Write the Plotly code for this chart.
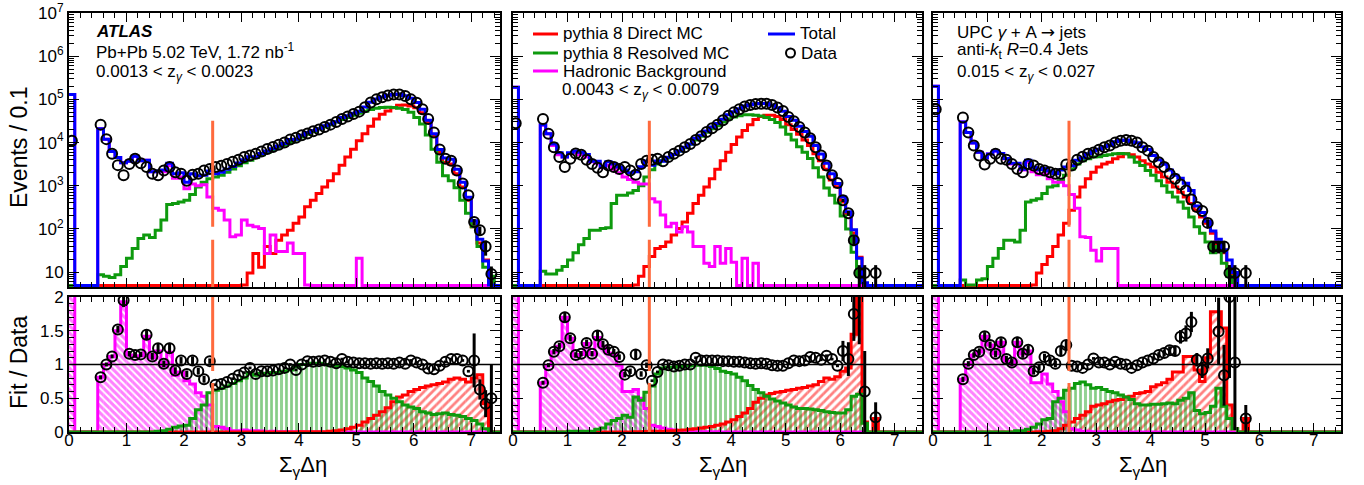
import math
import plotly.graph_objects as go

# ---------------- binning ----------------
N_BINS = 75
BIN_W = 0.1
X_MAX = 7.5

# ---------------- panel 1 : 0.0013 < z < 0.0023 ----------------
data1 = [1.1e4, None, None, None, None, 2.6e4, 1.2e4, 5.5e3, 3.0e3, 1.75e3,
         3.2e3, 4.2e3, 3.3e3, 2.7e3, 1.9e3, 1.75e3, 2.25e3, 2.7e3, 2.05e3, 1.9e3,
         1.3e3, 1.8e3, 1.9e3, 2.25e3, 2.45e3, 2.7e3, 2.9e3, 3.2e3, 3.6e3, 4.0e3,
         4.6e3, 5.0e3, 5.5e3, 6.2e3, 7.1e3, 7.9e3, 8.9e3, 1.0e4, 1.17e4, 1.29e4,
         1.48e4, 1.62e4, 1.82e4, 2.0e4, 2.3e4, 2.6e4, 3.0e4, 3.5e4, 4.0e4, 4.6e4,
         5.2e4, 6.6e4, 8.5e4, 1.0e5, 1.12e5, 1.23e5, 1.29e5, 1.29e5, 1.2e5, 1.0e5,
         8.3e4, 5.9e4, 3.5e4, 1.7e4, 6.9e3, 4.2e3, 3.8e3, 2.25e3, 1.12e3, 600,
         145, 93, 39, 9, None]
data1_err = [0] * 70 + [25, 20, 15, 4.5, 0]
total1 = [1.3e5, 0, 0, 0, 0, 2.1e4, 1.2e4, 6.2e3, 4.5e3, 3.4e3,
          3.7e3, 4.8e3, 3.8e3, 3.9e3, 2.1e3, 2.2e3, 2.3e3, 3.3e3, 1.9e3, 2.0e3,
          1.2e3, 1.9e3, 1.7e3, 1.75e3, 2.2e3, 1.9e3, 2.05e3, 2.4e3, 2.8e3, 3.35e3,
          4.0e3, 4.7e3, 4.7e3, 5.6e3, 6.4e3, 7.2e3, 8.3e3, 9.5e3, 1.17e4, 1.19e4,
          1.48e4, 1.7e4, 1.9e4, 2.1e4, 2.45e4, 2.7e4, 3.05e4, 3.8e4, 4.15e4, 4.75e4,
          5.3e4, 6.7e4, 8.6e4, 1.02e5, 1.13e5, 1.25e5, 1.3e5, 1.33e5, 1.21e5, 1.06e5,
          8.5e4, 5.9e4, 3.3e4, 1.6e4, 6.9e3, 4.4e3, 4.1e3, 2.4e3, 1.2e3, 540,
          155, 58, 18, 5, 0]
direct1 = [0, 0, 0, 0, 0, 0, 0, 0, 0, 0,
           0, 0, 0, 0, 0, 0, 0, 0, 0, 0,
           0, 0, 0, 0, 0, 0, 0, 0, 0, 0,
           5, 9.5, 27, 13, 39, 27, 55, 72, 93, 135,
           190, 325, 460, 660, 930, 1.3e3, 1.9e3, 3.0e3, 4.6e3, 7.0e3,
           1.1e4, 1.6e4, 2.4e4, 3.5e4, 4.5e4, 5.4e4, 6.4e4, 7.3e4, 7.4e4, 7.0e4,
           6.4e4, 4.9e4, 2.9e4, 1.4e4, 5.9e3, 3.5e3, 3.2e3, 1.9e3, 930, 460,
           112, 47, 19, 5.6, 0]
resolved1 = [0, 0, 0, 0, 0, 8.7, 8, 7.5, 8.7, 13.5,
             21, 35, 60, 72, 63, 93, 160, 370, 390, 420,
             460, 630, 930, 1.2e3, 1.45e3, 1.6e3, 1.75e3, 2.05e3, 2.45e3, 2.9e3,
             3.4e3, 3.9e3, 4.5e3, 5.2e3, 6.0e3, 6.9e3, 7.8e3, 8.8e3, 1.0e4, 1.15e4,
             1.35e4, 1.55e4, 1.8e4, 2.05e4, 2.3e4, 2.6e4, 3.0e4, 3.4e4, 3.8e4, 4.3e4,
             4.8e4, 5.3e4, 5.8e4, 6.2e4, 6.5e4, 6.6e4, 6.5e4, 6.2e4, 5.8e4, 5.0e4,
             3.8e4, 2.7e4, 1.5e4, 7.0e3, 3.5e3, 1.7e3, 1.3e3, 900, 460, 230,
             112, 39, 13, 8, 0]
hadronic1 = [1.3e5, 0, 0, 0, 0, 2.1e4, 1.2e4, 6.2e3, 4.5e3, 3.4e3,
             3.7e3, 4.8e3, 3.8e3, 3.9e3, 2.1e3, 2.1e3, 2.1e3, 2.9e3, 1.5e3, 1.6e3,
             850, 1.1e3, 1.0e3, 1.05e3, 550, 300, 270, 160, 66, 72,
             160, 122, 112, 102, 27, 72, 30, 30, 47, 27,
             27, 5, 0, 0, 0, 0, 0, 0, 0, 0,
             21, 0, 0, 0, 0, 0, 0, 0, 0, 0,
             0, 0, 0, 0, 0, 0, 0, 0, 0, 0,
             0, 0, 0, 0, 0]
ratio1 = [None, None, None, None, None, .81, 1.0, 1.12, 1.52, 1.95,
          1.16, 1.14, 1.15, 1.44, 1.12, 1.24, 1.01, 1.24, .91, 1.06,
          .86, 1.06, .9, .78, 1.05, .70, .71, .74, .79, .84,
          .88, .95, .86, .9, .9, .91, .93, .95, 1.0, .92,
          1.0, 1.05, 1.04, 1.05, 1.06, 1.04, 1.02, 1.08, 1.04, 1.03,
          1.02, 1.02, 1.01, 1.02, 1.01, 1.02, 1.01, 1.03, 1.01, 1.06,
          1.03, 1.0, .94, .93, .98, 1.04, 1.08, 1.08, 1.06, .9,
          1.06, .63, .42, .5, None]
ratio1_err = [0] * 5 + [.03, .03, .03, .05, .1, .04, .04, .04, .08, .05,
                        .07, .05, .08, .05, .05, .05, .06, .05, .05, .04] + [.02] * 45 + [.4, .15, .2, .5, 0]
mag_r1 = [2.5, 0, 0, 0, 0, .81, 1.0, 1.12, 1.5, 1.93,
          1.14, 1.12, 1.13, 1.42, 1.1, 1.2, .98, 1.18, .84, .89,
          .76, .71, .58, .53, .4, .08, .07, .05, .02, .02,
          .03, .02, .02, .015, .005, .01, .005, .005, .005, .003,
          .002, 0, 0, 0, 0, 0, 0, 0, 0, 0,
          0, 0, 0, 0, 0, 0, 0, 0, 0, 0,
          0, 0, 0, 0, 0, 0, 0, 0, 0, 0,
          0, 0, 0, 0, 0]
green_r1 = [0, 0, 0, 0, 0, 0, 0, 0, 0, 0,
            0, 0, 0, 0, 0, .01, .02, .04, .07, .09,
            .1, .2, .33, .4, .58, .62, .65, .68, .72, .76,
            .8, .88, .84, .87, .87, .88, .88, .9, .92, .97,
            1.0, 1.0, 1.02, 1.02, 1.0, .99, .98, .97, .95, .92,
            .88, .8, .75, .68, .6, .55, .5, .45, .4, .37,
            .35, .3, .28, .26, .27, .28, .26, .25, .23, .2,
            .17, .12, .05, 0, 0]
red_r1 = [0, 0, 0, 0, 0, 0, 0, 0, 0, 0,
          0, 0, 0, 0, 0, 0, 0, 0, 0, 0,
          0, 0, 0, 0, 0, 0, 0, 0, 0, 0,
          0, 0, 0, 0, 0, 0, 0, 0, 0, 0,
          .003, .003, .003, .003, .005, .01, .02, .03, .05, .07,
          .1, .15, .2, .25, .3, .36, .45, .52, .55, .6,
          .63, .66, .68, .7, .72, .74, .78, .8, .78, .74,
          .8, .85, .42, 0, 0]

# ---------------- panel 2 : 0.0043 < z < 0.0079 ----------------
data2 = [2.8e4, None, None, None, None, 3.5e4, 1.6e4, 7.8e3, 4.6e3, 2.7e3,
         4.2e3, 5.6e3, 5.2e3, 4.0e3, 3.2e3, 2.6e3, 2.05e3, 2.95e3, 2.7e3, 2.45e3,
         2.7e3, 2.25e3, 1.8e3, 3.2e3, 3.8e3, 4.0e3, 4.2e3, 3.7e3, 4.6e3, 5.5e3,
         6.5e3, 7.8e3, 9.3e3, 1.15e4, 1.4e4, 1.75e4, 2.15e4, 2.6e4, 3.3e4, 4.2e4,
         5.0e4, 5.9e4, 6.8e4, 7.4e4, 7.8e4, 7.9e4, 7.9e4, 7.4e4, 6.5e4, 5.4e4,
         3.9e4, 3.1e4, 2.3e4, 1.7e4, 1.26e4, 7.8e3, 5.0e3, 2.95e3, 1.75e3, 1.15e3,
         460, 230, 55, 9.5, 9.5, None, 9.5, None, None, None,
         None, None, None, None, None]
data2_err = [0] * 60 + [40, 30, 15, 5, 5, 0, 5, 0, 0, 0, 0, 0, 0, 0, 0]
total2 = [1.9e5, 0, 0, 0, 0, 2.6e4, 1.6e4, 9.3e3, 5.8e3, 4.6e3,
          5.8e3, 6.4e3, 6.0e3, 5.3e3, 3.7e3, 3.7e3, 2.7e3, 3.6e3, 3.2e3, 2.7e3,
          2.3e3, 2.0e3, 2.1e3, 2.75e3, 3.75e3, 3.0e3, 3.75e3, 3.7e3, 4.55e3, 5.3e3,
          6.4e3, 7.8e3, 9.3e3, 1.26e4, 1.48e4, 1.85e4, 2.28e4, 2.75e4, 3.45e4, 4.4e4,
          5.2e4, 6.1e4, 7.0e4, 7.5e4, 7.9e4, 8.0e4, 8.0e4, 7.3e4, 6.4e4, 5.3e4,
          4.0e4, 3.3e4, 2.4e4, 1.8e4, 1.4e4, 8.6e3, 5.4e3, 3.3e3, 1.9e3, 1.13e3,
          550, 250, 96, 21, 5.7, 0, 2, 0, 0, 0,
          0, 0, 0, 0, 0]
direct2 = [0, 0, 0, 0, 0, 0, 0, 0, 0, 0,
           0, 0, 0, 0, 0, 0, 0, 0, 0, 0,
           0, 0, 5, 8, 13.5, 23, 35, 39, 50, 72,
           102, 145, 230, 390, 600, 930, 1.45e3, 2.4e3, 3.8e3, 6.0e3,
           9.0e3, 1.35e4, 1.9e4, 2.6e4, 3.4e4, 4.0e4, 4.3e4, 4.3e4, 4.0e4, 3.4e4,
           2.6e4, 2.0e4, 1.55e4, 1.15e4, 8.5e3, 5.5e3, 3.8e3, 2.4e3, 1.35e3, 950,
           420, 220, 80, 22, 2, 0, 2, 0, 0, 0,
           0, 0, 0, 0, 0]
resolved2 = [0, 0, 0, 0, 0, 10.5, 9, 9, 11, 13.5,
             19, 28, 43, 60, 93, 93, 102, 107, 390, 600,
             600, 680, 780, 1.0e3, 1.6e3, 2.35e3, 3.2e3, 3.8e3, 4.4e3, 5.3e3,
             6.3e3, 7.6e3, 9.1e3, 1.14e4, 1.39e4, 1.73e4, 2.1e4, 2.45e4, 3.0e4, 3.5e4,
             3.9e4, 4.2e4, 4.4e4, 4.4e4, 4.3e4, 4.1e4, 3.8e4, 3.4e4, 2.9e4, 2.3e4,
             1.56e4, 1.15e4, 8.0e3, 6.0e3, 4.3e3, 2.6e3, 1.6e3, 890, 600, 400,
             200, 100, 29, 8, 1.2, 0, 0, 0, 0, 0,
             0, 0, 0, 0, 0]
hadronic2 = [1.9e5, 0, 0, 0, 0, 2.5e4, 1.6e4, 8.5e3, 5.2e3, 4.6e3,
             5.5e3, 5.9e3, 5.2e3, 4.6e3, 3.6e3, 3.3e3, 2.6e3, 3.0e3, 2.4e3, 2.0e3,
             1.6e3, 1.4e3, 1.2e3, 1.1e3, 1.1e3, 500, 420, 210, 112, 135,
             85, 112, 85, 39, 39, 16, 13.5, 39, 16, 35,
             17, 0, 21, 0, 16, 0, 0, 0, 0, 0,
             0, 0, 0, 0, 0, 0, 0, 0, 0, 0,
             0, 0, 0, 0, 0, 0, 0, 0, 0, 0,
             0, 0, 0, 0, 0]
ratio2 = [None, None, None, None, None, .73, .99, 1.19, 1.27, 1.7,
          1.39, 1.14, 1.16, 1.32, 1.16, 1.43, 1.3, 1.22, 1.19, 1.11,
          .85, .9, 1.15, .86, .99, .76, .89, 1.0, .99, .97,
          .98, 1.0, 1.0, 1.1, 1.06, 1.06, 1.06, 1.06, 1.05, 1.05,
          1.04, 1.04, 1.03, 1.02, 1.01, 1.02, 1.01, .99, .98, .98,
          1.02, 1.06, 1.05, 1.06, 1.11, 1.1, 1.07, 1.13, 1.08, .98,
          1.2, 1.08, 1.75, 2.3, .6, None, .22, None, None, None,
          None, None, None, None, None]
ratio2_err = [0] * 5 + [.03, .03, .04, .05, .08, .05, .04, .04, .05, .04,
                        .08, .05, .05, .04, .04, .04, .04, .07, .04, .04] + [.02] * 35 + \
             [.15, .25, .4, 1.0, .6, 0, .22, 0, 0, 0, 0, 0, 0, 0, 0]
mag_r2 = [2.5, 0, 0, 0, 0, .73, .99, 1.19, 1.27, 1.7,
          1.39, 1.13, 1.15, 1.31, 1.15, 1.4, 1.27, 1.17, 1.15, .99,
          .6, .6, .63, .5, .35, .1, .08, .06, .04, .03,
          .02, .02, .01, .005, .005, .002, .002, .002, .001, .001,
          0, 0, 0, 0, 0, 0, 0, 0, 0, 0,
          0, 0, 0, 0, 0, 0, 0, 0, 0, 0,
          0, 0, 0, 0, 0, 0, 0, 0, 0, 0,
          0, 0, 0, 0, 0]
green_r2 = [0, 0, 0, 0, 0, 0, 0, 0, 0, 0,
            .01, .01, .01, .01, .01, .04, .06, .12, .17, .2,
            .25, .22, .52, .47, .59, .68, .86, .95, .96, .96,
            .97, .98, .98, .99, .99, .99, .97, .94, .9, .88,
            .86, .81, .76, .69, .63, .58, .53, .49, .46, .43,
            .4, .37, .35, .35, .34, .33, .32, .3, .29, .28,
            .28, .33, .53, .56, .13, 0, 0, 0, 0, 0,
            0, 0, 0, 0, 0]
red_r2 = [0, 0, 0, 0, 0, 0, 0, 0, 0, 0,
          0, 0, 0, 0, 0, 0, 0, 0, 0, 0,
          0, 0, .003, .005, .008, .01, .012, .012, .015, .02,
          .025, .03, .04, .05, .06, .07, .08, .1, .12, .15,
          .18, .23, .28, .35, .44, .5, .55, .57, .59, .6,
          .62, .63, .65, .66, .68, .7, .75, .8, .78, .82,
          .9, .95, 1.45, 2.5, .15, 0, .2, 0, 0, 0,
          0, 0, 0, 0, 0]

# ---------------- panel 3 : 0.015 < z < 0.027 ----------------
data3 = [5.9e4, None, None, None, None, 3.8e4, 1.7e4, 8.5e3, 5.0e3, 3.1e3,
         4.2e3, 5.5e3, 4.2e3, 4.0e3, 3.2e3, 2.45e3, 2.05e3, 3.2e3, 2.95e3, 2.45e3,
         2.25e3, 2.05e3, 1.9e3, 1.9e3, 3.1e3, 2.95e3, 4.0e3, 4.7e3, 5.5e3, 5.9e3,
         6.8e3, 7.8e3, 8.5e3, 1.0e4, 1.1e4, 1.15e4, 1.1e4, 1.0e4, 7.8e3, 6.5e3,
         4.6e3, 3.5e3, 2.7e3, 1.9e3, 1.45e3, 1.07e3, 780, 480, 320, 260,
         138, 39, 39, 39, 9.5, 9.5, None, 9.5, None, None,
         None, None, None, None, None, None, None, None, None, None,
         None, None, None, None, None]
data3_err = [0] * 50 + [30, 12, 12, 12, 5, 5, 0, 5] + [0] * 17
total3 = [2.0e5, 0, 0, 0, 0, 3.0e4, 1.7e4, 9.7e3, 6.0e3, 4.4e3,
          5.4e3, 6.4e3, 5.6e3, 4.3e3, 3.3e3, 3.3e3, 2.4e3, 3.9e3, 2.65e3, 2.35e3,
          2.5e3, 2.2e3, 1.9e3, 2.3e3, 2.7e3, 2.9e3, 3.9e3, 4.45e3, 5.5e3, 6.4e3,
          7.0e3, 8.0e3, 8.5e3, 1.04e4, 1.11e4, 1.15e4, 1.05e4, 9.9e3, 8.0e3, 6.9e3,
          5.0e3, 4.0e3, 3.15e3, 2.3e3, 1.75e3, 1.5e3, 1.14e3, 780, 340, 240,
          150, 90, 58, 33, 19, 9.8, 0, 2, 0, 0,
          0, 0, 0, 0, 0, 0, 0, 0, 0, 0,
          0, 0, 0, 0, 0]
direct3 = [0, 0, 0, 0, 0, 0, 0, 0, 0, 0,
           0, 0, 0, 0, 0, 0, 0, 0, 5, 9.5,
           15, 23, 39, 72, 135, 270, 550, 930, 1.45e3, 2.05e3,
           2.7e3, 3.2e3, 3.5e3, 4.2e3, 4.7e3, 5.5e3, 5.2e3, 4.6e3, 3.8e3, 3.2e3,
           2.7e3, 2.05e3, 1.6e3, 1.2e3, 930, 710, 550, 390, 270, 190,
           135, 79, 39, 28, 13.5, 8, 0, 2, 0, 0,
           0, 0, 0, 0, 0, 0, 0, 0, 0, 0,
           0, 0, 0, 0, 0]
resolved3 = [0, 0, 0, 0, 0, 6.6, 5, 5, 6.6, 7,
             13.5, 21, 35, 55, 55, 50, 93, 420, 460, 500,
             660, 930, 1.0e3, 1.3e3, 1.75e3, 2.45e3, 3.2e3, 3.8e3, 4.2e3, 4.6e3,
             4.7e3, 5.0e3, 5.25e3, 5.5e3, 5.6e3, 5.5e3, 4.6e3, 3.5e3, 2.95e3, 2.25e3,
             1.75e3, 1.3e3, 1.0e3, 710, 550, 420, 300, 190, 112, 79,
             50, 28, 39, 16, 8, 0, 0, 0, 0, 0,
             0, 0, 0, 0, 0, 0, 0, 0, 0, 0,
             0, 0, 0, 0, 0]
hadronic3 = [2.0e5, 0, 0, 0, 0, 3.0e4, 1.7e4, 9.7e3, 6.0e3, 4.4e3,
             5.4e3, 6.4e3, 5.6e3, 4.2e3, 3.2e3, 3.2e3, 2.3e3, 3.5e3, 2.1e3, 1.8e3,
             1.9e3, 1.45e3, 1.2e3, 1.2e3, 1.0e3, 630, 300, 66, 63, 32,
             18, 35, 35, 35, 0, 0, 0, 0, 0, 0,
             0, 0, 0, 0, 0, 0, 0, 0, 0, 0,
             0, 0, 0, 0, 0, 0, 0, 0, 0, 0,
             0, 0, 0, 0, 0, 0, 0, 0, 0, 0,
             0, 0, 0, 0, 0]
ratio3 = [None, None, None, None, None, .78, 1.01, 1.14, 1.19, 1.42,
          1.29, 1.16, 1.33, 1.08, 1.03, 1.33, 1.16, 1.22, .9, .96,
          1.11, 1.06, 1.01, 1.2, 1.29, .98, .97, .95, 1.0, 1.09,
          1.03, 1.03, 1.0, 1.04, 1.01, 1.0, .95, .99, 1.03, 1.06,
          1.09, 1.14, 1.17, 1.21, 1.2, 1.41, 1.46, 1.63, 1.07, .92,
          1.09, None, 1.49, .84, 2.0, 1.03, None, .2, None, None,
          None, None, None, None, None, None, None, None, None, None,
          None, None, None, None, None]
ratio3_err = [0] * 5 + [.04, .04, .04, .05, .06, .05, .05, .06, .05, .05,
                        .08, .06, .06, .05, .05, .05, .05, .05, .06, .07] + [.02] * 15 + \
             [.03, .04, .05, .06, .06, .1, .12, .15, .1, .12,
              .15, 0, .5, .45, 1.2, 1.0, 0, .2, 0, 0] + [0] * 15
mag_r3 = [2.5, 0, 0, 0, 0, .78, 1.0, 1.14, 1.19, 1.42,
          1.29, 1.16, 1.33, 1.05, 1.0, 1.33, 1.16, 1.2, .73, .73,
          .86, .71, .6, .45, .3, .05, .03, .01, .01, .005,
          .003, .003, .003, .003, 0, 0, 0, 0, 0, 0,
          0, 0, 0, 0, 0, 0, 0, 0, 0, 0,
          0, 0, 0, 0, 0, 0, 0, 0, 0, 0,
          0, 0, 0, 0, 0, 0, 0, 0, 0, 0,
          0, 0, 0, 0, 0]
green_r3 = [0, 0, 0, 0, 0, 0, 0, 0, 0, 0,
            0, 0, 0, 0, 0, .02, .02, .04, .07, .12,
            .18, .2, .45, .5, .62, .65, .72, .74, .7, .65,
            .66, .63, .6, .58, .55, .52, .48, .42, .4, .4,
            .41, .41, .42, .43, .42, .47, .5, .58, .32, .27,
            .29, .38, .65, .38, .2, .05, 0, 0, 0, 0,
            0, 0, 0, 0, 0, 0, 0, 0, 0, 0,
            0, 0, 0, 0, 0]
red_r3 = [0, 0, 0, 0, 0, 0, 0, 0, 0, 0,
          0, 0, 0, 0, 0, 0, 0, 0, 0, .003,
          .005, .01, .02, .05, .1, .15, .2, .25, .3, .38,
          .4, .42, .45, .47, .48, .52, .53, .57, .58, .6,
          .67, .7, .73, .78, .89, .89, 1.12, 1.12, .92, .75,
          1.1, 1.78, 1.78, 1.54, .4, .05, 0, .2, 0, 0,
          0, 0, 0, 0, 0, 0, 0, 0, 0, 0,
          0, 0, 0, 0, 0]

# ---------------- text ----------------
ARROW = '<span style="font-family:DejaVu Sans">→</span>'
panel_labels = [
    ["<b><i>ATLAS</i></b>", "Pb+Pb 5.02 TeV, 1.72 nb<sup>-1</sup>",
     "0.0013 &lt; z<sub><i>γ</i></sub> &lt; 0.0023"],
    [],
    [f"UPC <i>γ</i> + A {ARROW} jets", "anti-<i>k</i><sub>t</sub> <i>R</i>=0.4 Jets",
     "0.015 &lt; z<sub><i>γ</i></sub> &lt; 0.027"],
]
legend_labels = ["pythia 8 Direct MC", "pythia 8 Resolved MC", "Hadronic Background"]
legend_zlabel = "0.0043 &lt; z<sub><i>γ</i></sub> &lt; 0.0079"
x_title = "Σ<sub>γ</sub>Δη"
y_title_top = "Events / 0.1"
y_title_bot = "Fit / Data"
cut_value = 2.5

# ---------------- style ----------------
W, H = 1364, 485
FONT = "Liberation Sans, Arial, Helvetica, sans-serif"
RED, GREEN, BLUE, MAG = "#FF0000", "#0E9A0E", "#0000FF", "#FF00FF"
ORANGE = "#FF6A3D"
LOG_MIN, LOG_MAX = 0.655, 7.0
ZERO_LEVEL = 10 ** 0.69          # ROOT draws empty bins along the frame bottom
TXT = 17

PANEL_PX = [(69, 500), (513, 922), (933, 1341)]
TOP_PX = (13, 287)
BOT_PX = (297, 432)


def px_x(px):
    return px / W


def px_y(py):
    return 1 - py / H


def ax(letter, n):
    return letter if n == 1 else f"{letter}{n}"


def axkey(letter, n):
    return f"{letter}axis" if n == 1 else f"{letter}axis{n}"


def step_xy(vals, floor=None):
    xs = [round(i * BIN_W, 2) for i in range(N_BINS)] + [X_MAX]
    ys = []
    for v in vals:
        if floor is not None and (v is None or v <= 0):
            ys.append(floor)
        else:
            ys.append(v)
    ys.append(ys[-1])
    return xs, ys


centers = [round(i * BIN_W + BIN_W / 2, 3) for i in range(N_BINS)]

panels = [
    dict(data=data1, err=data1_err, total=total1, direct=direct1, resolved=resolved1,
         hadronic=hadronic1, ratio=ratio1, rerr=ratio1_err, mag=mag_r1, grn=green_r1, red=red_r1),
    dict(data=data2, err=data2_err, total=total2, direct=direct2, resolved=resolved2,
         hadronic=hadronic2, ratio=ratio2, rerr=ratio2_err, mag=mag_r2, grn=green_r2, red=red_r2),
    dict(data=data3, err=data3_err, total=total3, direct=direct3, resolved=resolved3,
         hadronic=hadronic3, ratio=ratio3, rerr=ratio3_err, mag=mag_r3, grn=green_r3, red=red_r3),
]

fig = go.Figure()

for p, P in enumerate(panels):
    xt, yt = ax("x", p + 1), ax("y", p + 1)
    xb, yb = ax("x", p + 4), ax("y", p + 4)

    # ---- top: histograms ----
    for vals, col in [(P["direct"], RED), (P["resolved"], GREEN),
                      (P["hadronic"], MAG), (P["total"], BLUE)]:
        sx, sy = step_xy(vals, ZERO_LEVEL)
        fig.add_trace(go.Scatter(x=sx, y=sy, mode="lines", line=dict(color=col, width=3, shape="hv"),
                                 xaxis=xt, yaxis=yt, showlegend=False, hoverinfo="skip"))
    fig.add_trace(go.Scatter(
        x=centers, y=P["data"], mode="markers",
        marker=dict(symbol="circle-open", size=10, color="black", line=dict(width=2)),
        error_y=dict(type="data", array=P["err"], visible=True, thickness=3, width=0, color="black"),
        xaxis=xt, yaxis=yt, showlegend=False))

    # ---- bottom: hatched component ratios ----
    for vals, col, shp, size, sol in [(P["mag"], MAG, "\\", 5, 0.6),
                                      (P["red"], RED, "/", 6, 0.45),
                                      (P["grn"], GREEN, "|", 5, 0.55)]:
        fig.add_trace(go.Bar(
            x=centers, y=vals, width=BIN_W, xaxis=xb, yaxis=yb, showlegend=False,
            marker=dict(color="rgba(0,0,0,0)", line=dict(width=0),
                        pattern=dict(shape=shp, fgcolor=col, size=size, solidity=sol,
                                     fillmode="overlay")),
            hoverinfo="skip"))
    for vals, col in [(P["mag"], MAG), (P["red"], RED), (P["grn"], GREEN)]:
        sx, sy = step_xy(vals)
        fig.add_trace(go.Scatter(x=sx, y=sy, mode="lines", line=dict(color=col, width=3, shape="hv"),
                                 xaxis=xb, yaxis=yb, showlegend=False, hoverinfo="skip"))
    fig.add_trace(go.Scatter(
        x=centers, y=P["ratio"], mode="markers",
        marker=dict(symbol="circle-open", size=10, color="black", line=dict(width=2)),
        error_y=dict(type="data", array=P["rerr"], visible=True, thickness=3, width=0, color="black"),
        xaxis=xb, yaxis=yb, showlegend=False))

# ---------------- axes ----------------
log_minor = [k * 10 ** e for e in range(0, 7) for k in range(2, 10)
             if LOG_MIN < math.log10(k * 10 ** e) < LOG_MAX]
layout = dict(width=W, height=H, autosize=False, margin=dict(l=0, r=0, t=0, b=0, pad=0),
              paper_bgcolor="white", plot_bgcolor="white", barmode="overlay",
              font=dict(family=FONT, size=17, color="black"), showlegend=False)

common_x = dict(range=[0, X_MAX], tick0=0, dtick=1, ticks="inside", ticklen=9, tickwidth=1,
                tickcolor="black", mirror="allticks", showline=True, linewidth=2, linecolor="black",
                showgrid=False, zeroline=False, automargin=False,
                minor=dict(ticks="inside", ticklen=5, dtick=0.2, tickwidth=1, tickcolor="black", showgrid=False),
                tickfont=dict(size=17, family=FONT))

for p in range(3):
    x0, x1 = PANEL_PX[p]
    dom_x = [px_x(x0), px_x(x1)]
    # top
    layout[axkey("x", p + 1)] = dict(common_x, domain=dom_x, anchor=ax("y", p + 1), showticklabels=False)
    layout[axkey("y", p + 1)] = dict(
        type="log", range=[LOG_MIN, LOG_MAX], domain=[px_y(TOP_PX[1]), px_y(TOP_PX[0])],
        anchor=ax("x", p + 1), tickmode="array", automargin=False,
        tickvals=[10, 100, 1e3, 1e4, 1e5, 1e6, 1e7],
        ticktext=["10", "10<sup>2</sup>", "10<sup>3</sup>", "10<sup>4</sup>", "10<sup>5</sup>",
                  "10<sup>6</sup>", "10<sup>7</sup>"],
        showticklabels=(p == 0), ticks="inside", ticklen=10, tickwidth=1, tickcolor="black",
        mirror="allticks", showline=True, linewidth=2, linecolor="black", showgrid=False, zeroline=False,
        minor=dict(ticks="inside", ticklen=5, tickvals=log_minor, tickwidth=1, tickcolor="black", showgrid=False),
        tickfont=dict(size=17, family=FONT))
    # bottom
    layout[axkey("x", p + 4)] = dict(common_x, domain=dom_x, anchor=ax("y", p + 4), showticklabels=True,
                                     ticklabelstandoff=-8)
    layout[axkey("y", p + 4)] = dict(
        range=[0, 2], domain=[px_y(BOT_PX[1]), px_y(BOT_PX[0])], anchor=ax("x", p + 4),
        tickmode="array", tickvals=[0, 0.5, 1, 1.5, 2], ticktext=["0", "0.5", "1", "1.5", "2"],
        showticklabels=(p == 0), ticks="inside", ticklen=10, tickwidth=1, tickcolor="black", automargin=False,
        mirror="allticks", showline=True, linewidth=2, linecolor="black", showgrid=False, zeroline=False,
        minor=dict(ticks="inside", ticklen=5, dtick=0.1, tick0=0, tickwidth=1, tickcolor="black", showgrid=False),
        tickfont=dict(size=17, family=FONT))

fig.update_layout(**layout)

# ---------------- shapes ----------------
shapes = []
for p in range(3):
    shapes.append(dict(type="line", xref=ax("x", p + 1), yref=ax("y", p + 1) + " domain",
                       x0=cut_value, x1=cut_value, y0=0.607, y1=0,
                       line=dict(color=ORANGE, width=3, dash="106px,13px")))
    shapes.append(dict(type="line", xref=ax("x", p + 4), yref=ax("y", p + 4) + " domain",
                       x0=cut_value, x1=cut_value, y0=1, y1=0,
                       line=dict(color=ORANGE, width=3, dash="74px,12px")))
    shapes.append(dict(type="line", xref=ax("x", p + 4), yref=ax("y", p + 4),
                       x0=0, x1=X_MAX, y0=1, y1=1, line=dict(color="black", width=1.5)))

# legend samples (panel 2)
leg_rows_py = [34, 53, 71]
for py, col in zip(leg_rows_py, [RED, GREEN, MAG]):
    shapes.append(dict(type="line", xref="paper", yref="paper", x0=px_x(533), x1=px_x(558),
                       y0=px_y(py), y1=px_y(py), line=dict(color=col, width=3)))
shapes.append(dict(type="line", xref="paper", yref="paper", x0=px_x(768), x1=px_x(795),
                   y0=px_y(34), y1=px_y(34), line=dict(color=BLUE, width=3)))
shapes.append(dict(type="circle", xref="paper", yref="paper", x0=px_x(786), x1=px_x(795),
                   y0=px_y(57.5), y1=px_y(48.5), line=dict(color="black", width=2)))
fig.update_layout(shapes=shapes)

# ---------------- annotations ----------------
ann = []
text_x_px = [94, None, 955]
block_rows_py = [32, 51, 73]
for p in (0, 2):
    for line, py in zip(panel_labels[p], block_rows_py):
        ann.append(dict(text=line, x=px_x(text_x_px[p]), y=px_y(py), xref="paper", yref="paper",
                        xanchor="left", yanchor="middle", showarrow=False, font=dict(size=TXT)))
for line, py in zip(legend_labels, leg_rows_py):
    ann.append(dict(text=line, x=px_x(561), y=px_y(py), xref="paper", yref="paper",
                    xanchor="left", yanchor="middle", showarrow=False, font=dict(size=TXT)))
ann.append(dict(text=legend_zlabel, x=px_x(560), y=px_y(91), xref="paper", yref="paper",
                xanchor="left", yanchor="middle", showarrow=False, font=dict(size=TXT)))
ann.append(dict(text="Total", x=px_x(798), y=px_y(34), xref="paper", yref="paper",
                xanchor="left", yanchor="middle", showarrow=False, font=dict(size=TXT)))
ann.append(dict(text="Data", x=px_x(799), y=px_y(53), xref="paper", yref="paper",
                xanchor="left", yanchor="middle", showarrow=False, font=dict(size=TXT)))
for cx in (303, 723, 1143):
    ann.append(dict(text=x_title, x=px_x(cx), y=px_y(466), xref="paper", yref="paper",
                    xanchor="center", yanchor="middle", showarrow=False, font=dict(size=22)))
ann.append(dict(text=y_title_top, x=px_x(19), y=px_y(148), xref="paper", yref="paper",
                xanchor="center", yanchor="middle", textangle=-90, showarrow=False, font=dict(size=23)))
ann.append(dict(text=y_title_bot, x=px_x(19), y=px_y(362), xref="paper", yref="paper",
                xanchor="center", yanchor="middle", textangle=-90, showarrow=False, font=dict(size=23)))
fig.update_layout(annotations=ann)

# remove the default 8px page margin so the figure sits at the window origin
fig.write_html("out.html", config={"displayModeBar": False},
               post_script="document.body.style.margin='0px';")
